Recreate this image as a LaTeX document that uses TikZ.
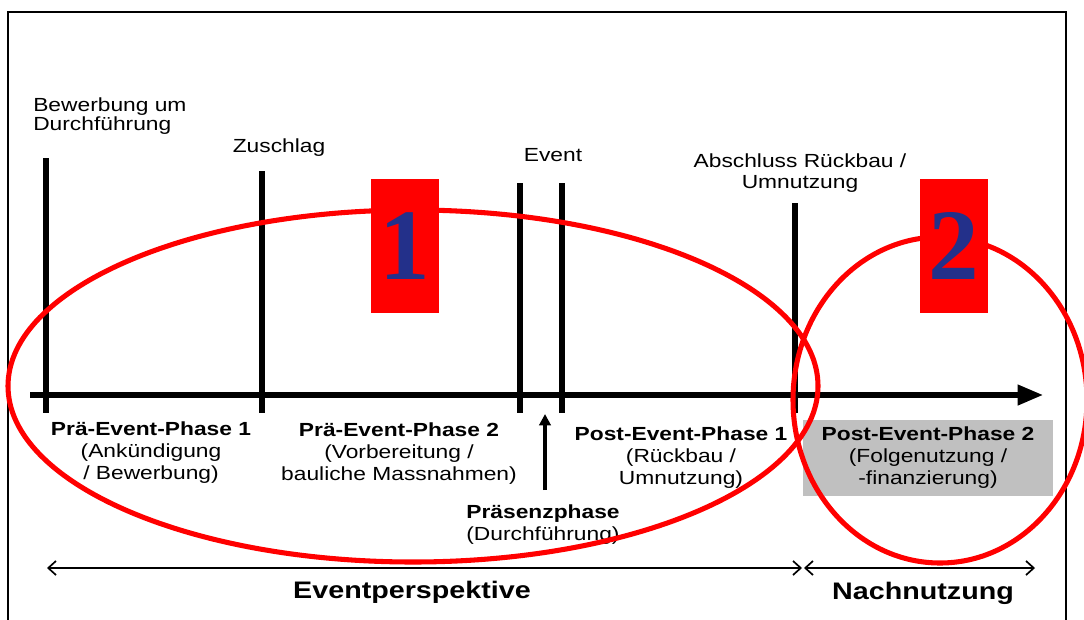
\documentclass[tikz,border=0pt]{standalone}
\usepackage{fontspec}
\newfontfamily\lab[FakeStretch=1.2]{Liberation Sans}
\newfontfamily\numf{Liberation Serif}
\usetikzlibrary{arrows.meta}
\definecolor{ered}{RGB}{255,0,0}
\definecolor{numblue}{RGB}{35,48,138}
\definecolor{gbox}{RGB}{192,192,192}
\begin{document}
\begin{tikzpicture}[x=0.025cm,y=-0.025cm,
  reg/.style={inner sep=0pt, align=center, font=\lab\fontsize{13.5}{15.6}\selectfont},
  big/.style={inner sep=0pt, font=\lab\bfseries\fontsize{17}{19}\selectfont},
  tick/.style={line width=3.6pt},
  axis/.style={line width=3.6pt, -{Triangle[length=18pt,width=14pt]}},
  uparr/.style={line width=2.6pt, -{Triangle[length=8pt,width=8pt]}},
  dim/.style={line width=1.2pt, {Straight Barb[length=5.5pt,width=10pt]}-{Straight Barb[length=5.5pt,width=10pt]}},
  ering/.style={draw=ered, line width=3.6pt},
  numbox/.style={fill=ered, inner sep=0pt, minimum width=1.7cm, minimum height=3.35cm,
    text=numblue, font=\numf\bfseries\fontsize{72}{72}\selectfont},
  frame/.style={line width=0.8pt}]
\useasboundingbox (0,0) rectangle (1084,619);
% frame
\draw[frame] (8,630) -- (8,12) -- (1066,12) -- (1066,630);
% top labels
\node[reg, anchor=west, align=left, font=\lab\fontsize{13.5}{14}\selectfont] (bew) at (33,116) {Bewerbung um\\Durchführung};
\node[reg] (zus) at (279,148) {Zuschlag};
\node[reg] (evt) at (553,155) {Event};
\node[reg, font=\lab\fontsize{13.5}{15}\selectfont] (abs) at (800,173) {Abschluss Rückbau /\\Umnutzung};
% ticks
\draw[tick] (46,158) -- (46,413);
\draw[tick] (262,171) -- (262,413);
\draw[tick] (520,183) -- (520,413);
\draw[tick] (562,183) -- (562,413);
\draw[tick] (795,203) -- (795,413);
% axis
\coordinate (a0) at (30,395);
\coordinate (a1) at (1043,395);
\draw[axis] (a0) -- (a1);
% phase labels
\node[reg] (p1) at (151,453) {\bfseries Prä-Event-Phase 1\\(Ankündigung\\/ Bewerbung)};
\node[reg] (p2) at (399,454) {\bfseries Prä-Event-Phase 2\\(Vorbereitung /\\bauliche Massnahmen)};
\node[reg] (q1) at (681,458) {\bfseries Post-Event-Phase 1\\(Rückbau /\\Umnutzung)};
\node[reg, fill=gbox, minimum width=6.25cm, minimum height=1.875cm] (q2) at (928,458) {\bfseries Post-Event-Phase 2\\(Folgenutzung /\\-finanzierung)};
\node[reg] (pr) at (543,525) {\bfseries Präsenzphase\\(Durchführung)};
\coordinate (up0) at (545,490);
\coordinate (up1) at (545,414);
\draw[uparr] (up0) -- (up1);
% bottom
\coordinate (b0) at (47,568);
\coordinate (b1) at (802,568);
\coordinate (b2) at (804,568);
\coordinate (b3) at (1035,568);
\draw[dim] (b0) -- (b1);
\draw[dim] (b2) -- (b3);
\node[big] (ep) at (412,592) {Eventperspektive};
\node[big] (nn) at (923,593) {Nachnutzung};
% ellipses
\draw[ering] (413,386) ellipse [x radius=405, y radius=176];
\draw[ering] (940,400) ellipse [x radius=147, y radius=163];
% number boxes
\node[numbox] (n1) at (405,246) {1};
\node[numbox] (n2) at (954,246) {2};
\end{tikzpicture}
\end{document}
